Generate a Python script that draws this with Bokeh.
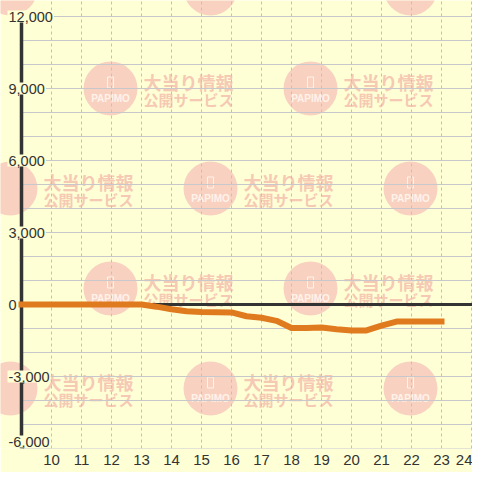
from bokeh.plotting import figure
from bokeh.models import Range1d, FixedTicker, Grid
from bokeh.core.properties import value
from bokeh.embed import file_html
from bokeh.resources import INLINE

# ---- data ----
hours = [9, 10, 11, 12, 13, 13.5, 14, 14.5, 15, 15.5, 16, 16.5, 17, 17.5,
         18, 18.5, 19, 19.5, 20, 20.5, 21, 21.5, 22, 23]
balls = [0, 0, 0, 0, 0, -90, -200, -280, -310, -320, -330, -490, -550, -680,
         -980, -980, -960, -1030, -1080, -1080, -880, -710, -710, -710]

x_ticks = list(range(10, 25))
y_ticks = [12000, 9000, 6000, 3000, 0, -3000, -6000]
y_tick_labels = ["12,000", "9,000", "6,000", "3,000", "0", "-3,000", "-6,000"]
y_grid_values = list(range(-6000, 12001, 1000))
axis_hour = 9

wm_line1 = "大当り情報"
wm_line2 = "公開サービス"
wm_logo = "PAPIMO"

# ---- geometry ----
W, H = 472, 472
BOTTOM = 24
frame_h = H - BOTTOM
px_x = 30.0              # pixels per hour
px_y = 24.0 / 1000.0     # pixels per unit
x_start = axis_hour - 21 / px_x
x_end = x_start + W / px_x
y_start = -6000
y_end = y_start + frame_h / px_y

BG = "#ffffd5"
DARK = "#333333"

p = figure(width=W, height=H, output_backend="svg", toolbar_location=None,
           x_range=Range1d(x_start, x_end), y_range=Range1d(y_start, y_end),
           y_axis_location=None, min_border_left=0, min_border_right=0,
           min_border_top=0, min_border_bottom=BOTTOM)
p.background_fill_color = BG
p.border_fill_color = BG
p.outline_line_color = None

# remove default grids, add dashed vertical grid
p.center = [c for c in p.center if not isinstance(c, Grid)]
p.add_layout(Grid(dimension=0, ticker=FixedTicker(ticks=x_ticks),
                  grid_line_color="#c0c0c8", grid_line_dash="3 3",
                  grid_line_width=1), "center")

# x axis
ax = p.xaxis[0]
ax.ticker = FixedTicker(ticks=x_ticks)
ax.axis_line_color = None
ax.major_tick_line_color = None
ax.minor_tick_line_color = None
ax.major_tick_out = 0
ax.major_label_standoff = 6
ax.major_label_text_font = "Liberation Sans"
ax.major_label_text_font_size = "15px"
ax.major_label_text_color = DARK

# ---- watermark (decorative tiles) ----
def to_x(px):
    return x_start + px / px_x

def to_y(py):
    return y_end - py / px_y

cxs, cys = [], []
for k in range(6):
    cy = -12 + 100 * k
    for j in range(-1, 3):
        cx = 10 + 100 * (k % 2) + 200 * j
        cxs.append(cx)
        cys.append(cy)

p.scatter([to_x(c) for c in cxs], [to_y(c) for c in cys], size=54,
          fill_color="#f9d1c1", line_color=None, level="image")

logo = [(cx, cy) for cx, cy in zip(cxs, cys)
        if cx - 22 >= 0 and cx + 22 <= W and cy - 14 >= 0 and cy + 16 <= frame_h]
p.rect([to_x(c[0]) for c in logo], [to_y(c[1] - 6) for c in logo], width=6, height=11,
       width_units="screen", height_units="screen", fill_color=None,
       line_color="#fff3ea", line_width=1, level="image")
p.text([to_x(c[0]) for c in logo], [to_y(c[1] + 10) for c in logo],
       text=[wm_logo] * len(logo), text_align="center", text_baseline="middle",
       text_font=value("Liberation Sans"), text_font_style="bold",
       text_font_size="10px", text_color="#fff3ea", level="image")

words = [(cx, cy) for cx, cy in zip(cxs, cys)
         if cx + 33 >= 0 and cx + 125 <= W and cy - 18 >= 0 and cy + 20 <= frame_h]
p.text([to_x(c[0] + 33) for c in words], [to_y(c[1] - 7) for c in words],
       text=[wm_line1] * len(words), text_align="left", text_baseline="middle",
       text_font=value("Noto Sans CJK JP"), text_font_style="bold",
       text_font_size="18px", text_color="#f5c9b4", level="image")
p.text([to_x(c[0] + 33) for c in words], [to_y(c[1] + 11) for c in words],
       text=[wm_line2] * len(words), text_align="left", text_baseline="middle",
       text_font=value("Noto Sans CJK JP"), text_font_style="bold",
       text_font_size="15px", text_color="#f5c9b4", level="image")

# ---- horizontal grid lines (from the axis to the right) ----
p.segment(x0=[axis_hour] * len(y_grid_values), x1=[x_end] * len(y_grid_values),
          y0=y_grid_values, y1=y_grid_values, line_color="#c8c8cc", line_width=1)

# zero line and y axis line
p.segment(x0=[axis_hour], x1=[x_end], y0=[0], y1=[0], line_color=DARK, line_width=3)
p.segment(x0=[axis_hour], x1=[axis_hour], y0=[y_start], y1=[y_ticks[0]],
          line_color=DARK, line_width=3.5)

# data line
p.line(hours, balls, line_color="#e07a1f", line_width=6, line_join="round",
       line_cap="square")

# y tick labels (drawn over the axis line with a background)
label_x = x_start + 7 / px_x
offsets = [0] * (len(y_ticks) - 1) + [-7]
p.text(x=[label_x] * len(y_ticks), y=y_ticks, text=y_tick_labels,
       y_offset=offsets, text_align="left", text_baseline="middle",
       text_font=value("Liberation Sans"), text_font_size="14.5px",
       text_color=DARK, background_fill_color=BG, padding=1)

open("out.html", "w").write(file_html(p, INLINE))
